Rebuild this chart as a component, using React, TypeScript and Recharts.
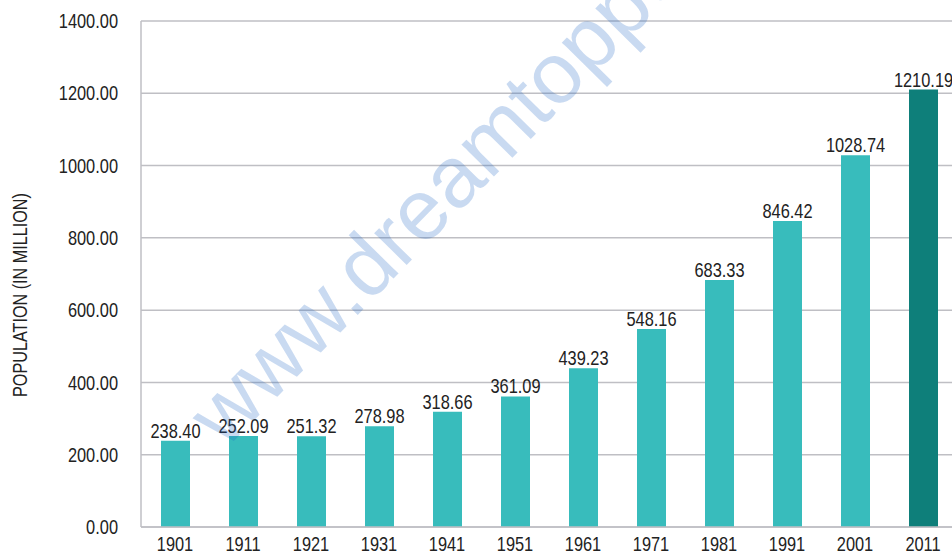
import React from "react";
import { BarChart, Bar, XAxis, YAxis, CartesianGrid, Cell, LabelList } from "recharts";

const years = ["1901", "1911", "1921", "1931", "1941", "1951", "1961", "1971", "1981", "1991", "2001", "2011"];
const population = [238.4, 252.09, 251.32, 278.98, 318.66, 361.09, 439.23, 548.16, 683.33, 846.42, 1028.74, 1210.19];
const yTicks = [0, 200, 400, 600, 800, 1000, 1200, 1400];
const highlightYear = "2011";
const yLabelText = "POPULATION (IN MILLION)";
const watermarkText = "www.dreamtoppers.in";

const data = years.map((y, i) => ({ year: y, value: population[i] }));

const FONT = "'Liberation Sans', Arial, sans-serif";
const GRID = "#BFBFC4";
const TEXT = "#222";
const SQUEEZE = 0.82;

function XTick(props: any) {
  const { x, y, payload } = props;
  return (
    <g transform={`translate(${x},${y})`}>
      <text transform={`scale(${SQUEEZE},1)`} textAnchor="middle" dy="0.7em" fontSize={20} fontFamily={FONT} fill={TEXT}>
        {payload.value}
      </text>
    </g>
  );
}

function YTick(props: any) {
  const { x, y, payload } = props;
  return (
    <g transform={`translate(${x},${y})`}>
      <text transform={`scale(${SQUEEZE},1)`} textAnchor="end" dy="0.355em" fontSize={20} fontFamily={FONT} fill={TEXT}>
        {Number(payload.value).toFixed(2)}
      </text>
    </g>
  );
}

function ValueLabel(props: any) {
  const { x, y, width, value } = props;
  const cx = Number(x) + Number(width) / 2;
  const by = Number(y) - 3;
  return (
    <g transform={`translate(${cx},${by})`}>
      <text transform={`scale(${SQUEEZE},1)`} textAnchor="middle" fontSize={20} fontFamily={FONT} fill={TEXT}>
        {Number(value).toFixed(2)}
      </text>
    </g>
  );
}

function YAxisLabel(props: any) {
  const vb = props.viewBox || { x: 0, y: 21, width: 141, height: 506 };
  const cy = vb.y + vb.height / 2 + 21;
  const bx = 27;
  return (
    <g transform={`translate(${bx},${cy}) rotate(-90)`}>
      <text transform={`scale(0.81,1)`} textAnchor="middle" fontSize={20} fontFamily={FONT} fill={TEXT}>
        {yLabelText}
      </text>
    </g>
  );
}

export default function App() {
  return (
    <div style={{ position: "fixed", left: 0, top: 0, width: 952, height: 555, overflow: "hidden", background: "#fff" }}>
      <BarChart width={960} height={555} data={data} margin={{ top: 21, right: 3, bottom: 0, left: 0 }}>
        <CartesianGrid vertical={false} stroke={GRID} strokeWidth={1.5} />
        <XAxis
          dataKey="year"
          height={28}
          tickLine={false}
          tickSize={6}
          tickMargin={4}
          axisLine={{ stroke: GRID, strokeWidth: 1.5 }}
          tick={<XTick />}
          interval={0}
        />
        <YAxis
          width={141}
          domain={[0, 1400]}
          ticks={yTicks}
          tickLine={false}
          tickSize={6}
          tickMargin={17}
          axisLine={{ stroke: GRID, strokeWidth: 1.5 }}
          tick={<YTick />}
          label={{ content: (p: any) => <YAxisLabel {...p} /> }}
        />
        <Bar dataKey="value" barSize={29} isAnimationActive={false}>
          {data.map((d) => (
            <Cell key={d.year} fill={d.year === highlightYear ? "#0E7F7A" : "#38BCBC"} />
          ))}
          <LabelList dataKey="value" content={(p: any) => <ValueLabel {...p} />} />
        </Bar>
      </BarChart>
      <svg width={952} height={555} style={{ position: "absolute", left: 0, top: 0, pointerEvents: "none" }}>
        <text
          x={225}
          y={450}
          transform="rotate(-45.5 225 450)"
          fontSize={86}
          fontFamily={FONT}
          fill="#1F63C6"
          fillOpacity={0.24}
        >
          {watermarkText}
        </text>
      </svg>
    </div>
  );
}
